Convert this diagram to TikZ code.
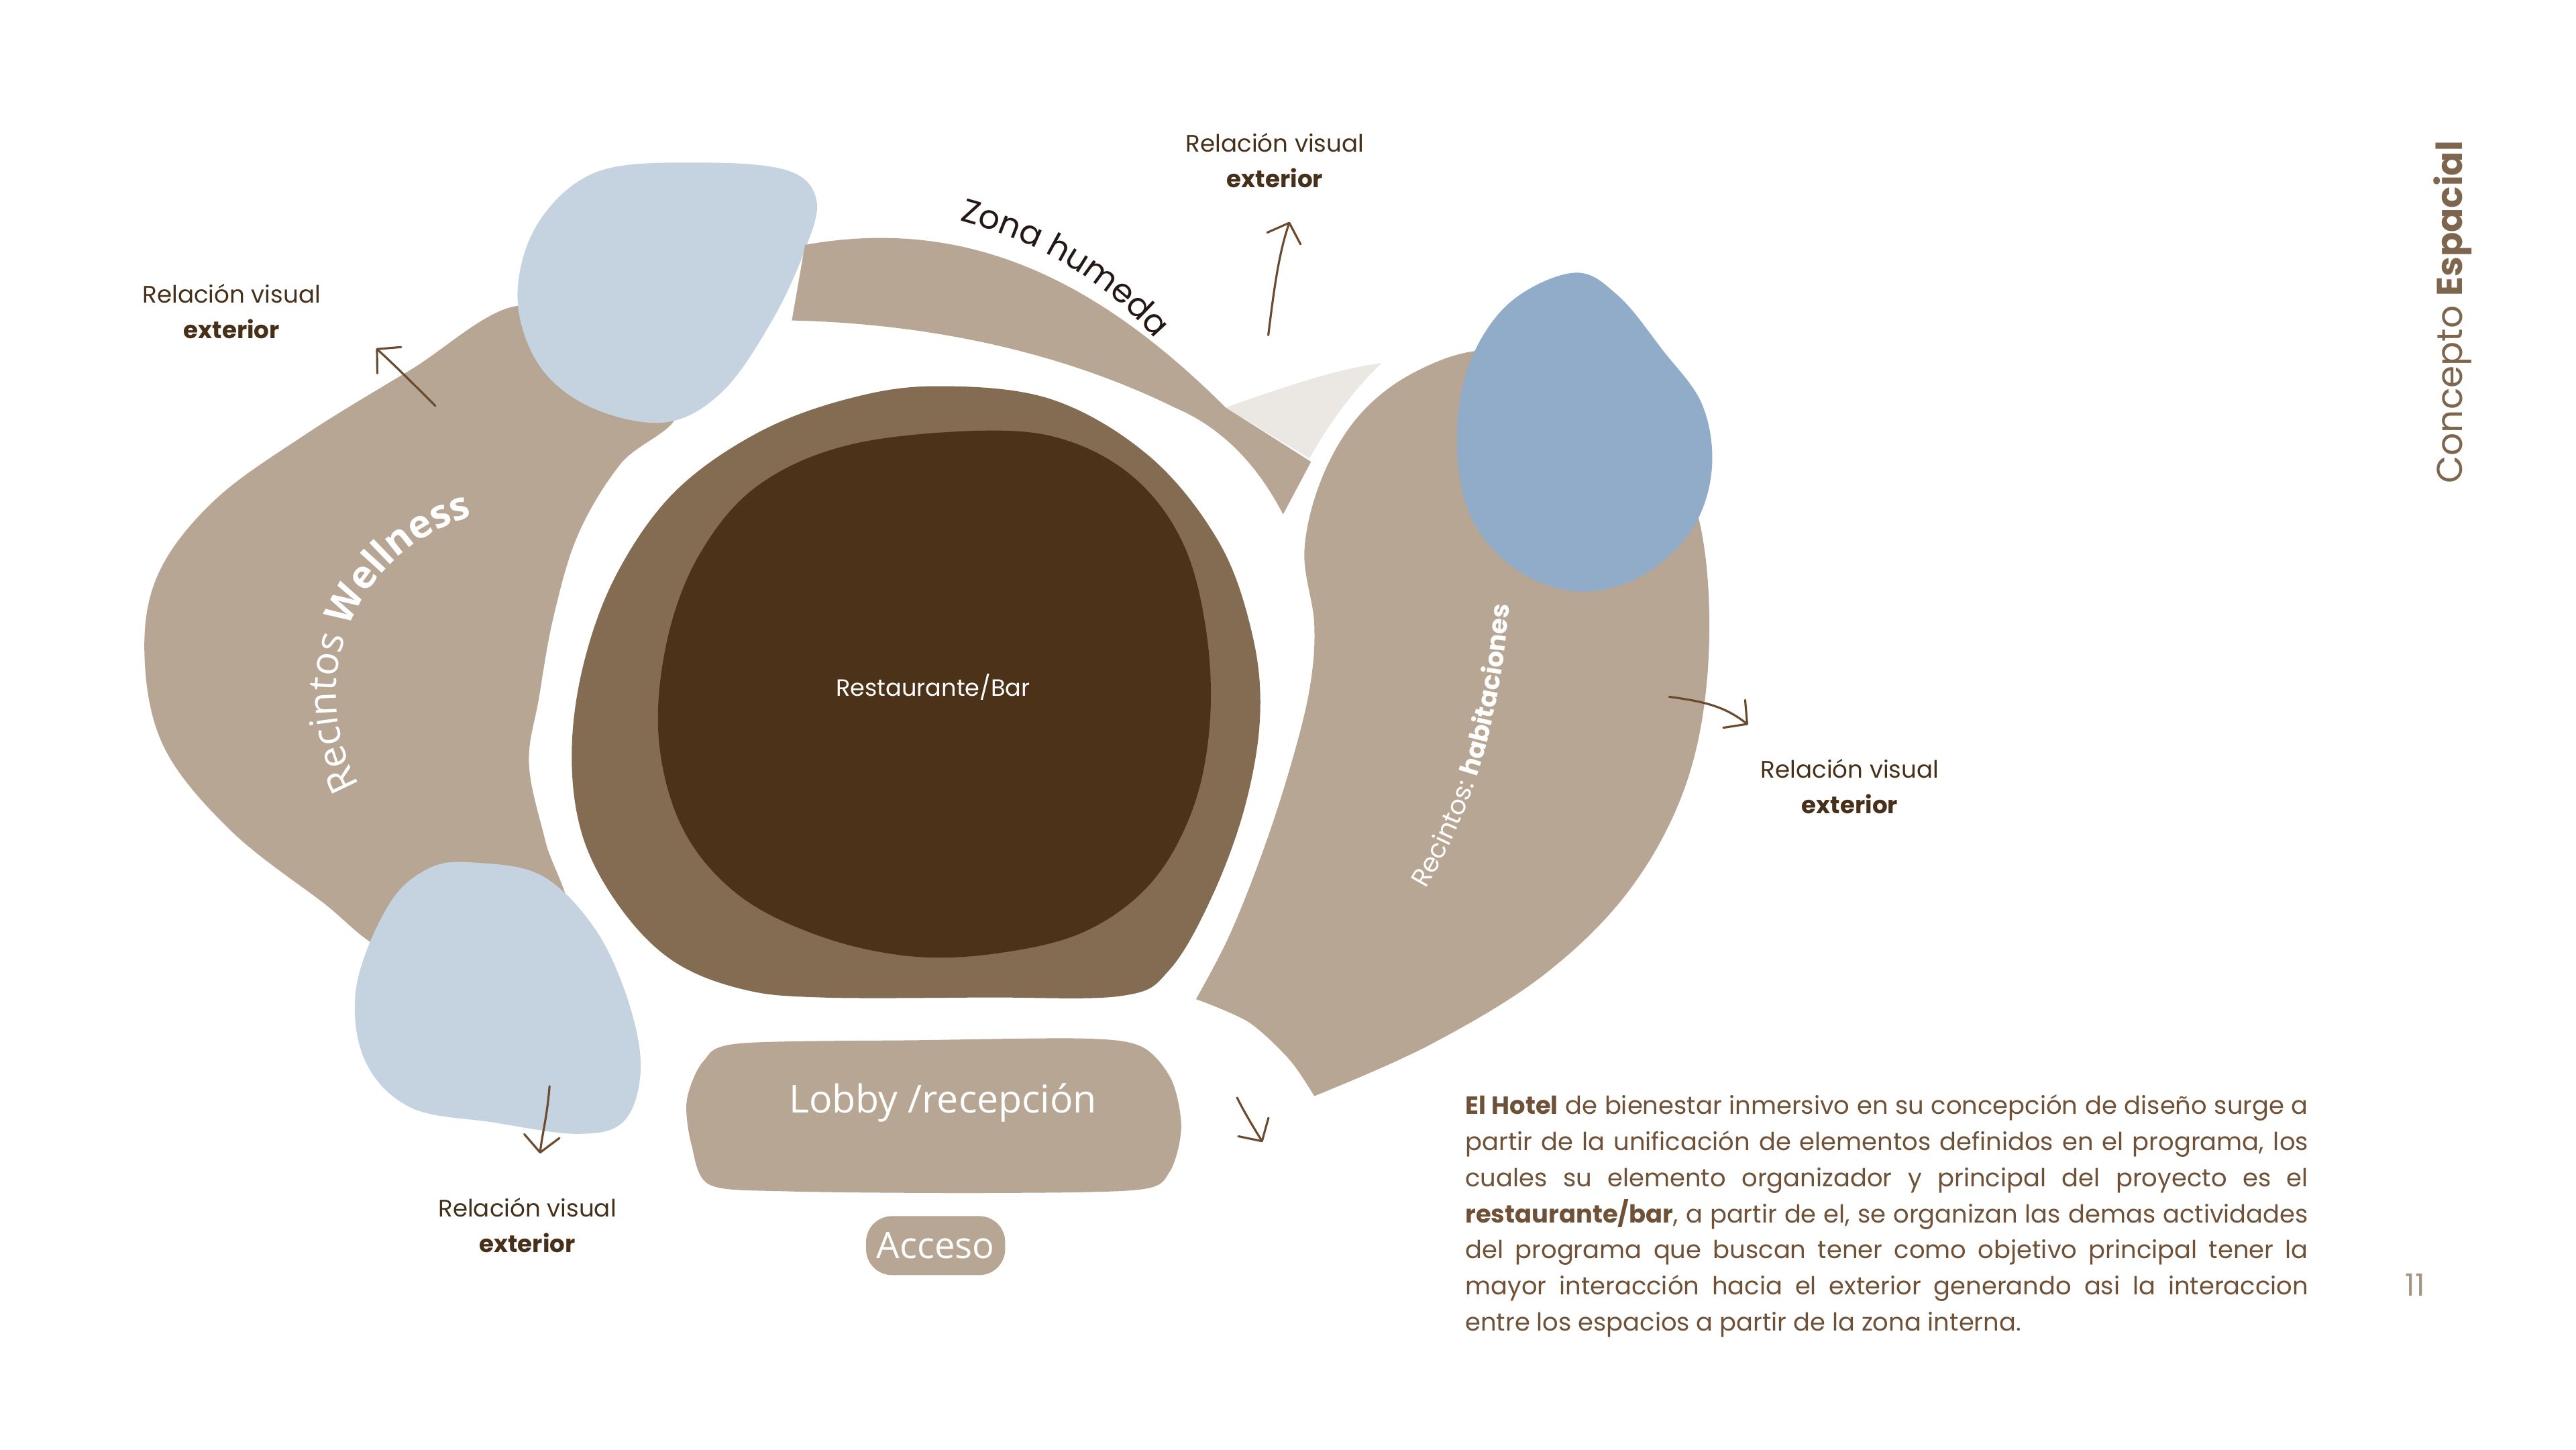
\documentclass[tikz,border=0pt]{standalone}
\usepackage{fontspec}
\setmainfont{Poppins}
\newfontfamily\osans{Open Sans}
\usetikzlibrary{arrows.meta,decorations.text}

\definecolor{taupe}{HTML}{B7A694}
\definecolor{skyblue}{HTML}{C5D2DF}
\definecolor{midblue}{HTML}{91ACC8}
\definecolor{barbrown}{HTML}{846C53}
\definecolor{bardark}{HTML}{4B3218}
\definecolor{wetgrey}{HTML}{EBE7E3}
\definecolor{inkbrown}{HTML}{6B4B30}
\definecolor{labelbrown}{HTML}{47301A}
\definecolor{bodybrown}{HTML}{6E5136}
\definecolor{titlebrown}{HTML}{7E664E}
\definecolor{pagegrey}{HTML}{A39483}
\definecolor{wetink}{HTML}{231815}

\begin{document}
\begin{tikzpicture}[
  x=0.02449cm, y=-0.02449cm,
  zone/.style={fill=taupe},
  pool/.style={fill=skyblue},
  pooldk/.style={fill=midblue},
  relv/.style={align=center, text=labelbrown, inner sep=0pt,
               font=\fontsize{10.15}{15}\selectfont},
  body/.style={text width=357.5pt, align=justify, text=bodybrown, inner sep=0pt,
               font=\fontsize{10.5}{15.33}\selectfont},
  intxt/.style={text=white, inner sep=0pt},
  pill/.style={fill=taupe, rounded corners=11pt, minimum width=59pt,
               minimum height=25pt, inner sep=0pt, text=white,
               font=\osans\fontsize{15.5}{16}\selectfont},
  arr/.style={draw=inkbrown, line width=0.9pt, line cap=round,
              -{Straight Barb[length=7pt, width=15pt, round]}}]

% page
\fill[white] (0,0) rectangle (1568,882);
\useasboundingbox (0,0) rectangle (1568,882);

% wellness wing and pools
\fill[zone] plot[smooth cycle, tension=0.6] coordinates {(316,186) (250,225) (185,265)
  (130,305) (96,350) (88,400) (100,455) (140,505) (195,548) (240,580) (300,575)
  (345,560) (332,512) (322,465) (328,425) (337,375) (352,325) (378,282) (412,250) (370,212)};
\fill[pool] plot[smooth cycle, tension=0.6] coordinates {(365,104) (430,99) (480,104)
  (497,122) (490,152) (470,195) (440,238) (405,257) (360,248) (328,222) (315,180) (328,135)};
\fill[pool] plot[smooth cycle, tension=0.6] coordinates {(290,525) (330,533) (362,565)
  (382,608) (390,650) (380,682) (352,690) (300,683) (250,674) (222,645) (217,600)
  (237,550) (262,528)};

% zona humeda
\fill[wetgrey] (746,248) .. controls (780,236) and (815,224) .. (841,221)
  .. controls (825,236) and (810,256) .. (797,279) -- cycle;
\fill[zone] (482,195) -- (490,149) .. controls (580,133) and (660,162) .. (746,248)
  -- (798,281) -- (781,313) .. controls (768,288) and (748,262) .. (715,248)
  .. controls (650,216) and (570,197) .. (482,195) -- cycle;

% restaurante
\fill[barbrown] plot[smooth cycle, tension=0.6] coordinates {(570,235) (640,243) (700,278)
  (742,330) (762,385) (767,435) (758,490) (738,545) (712,590) (683,606) (600,607)
  (500,607) (452,602) (410,585) (378,553) (355,510) (348,460) (355,405) (375,350)
  (410,300) (460,264) (515,243)};
\fill[bardark] plot[smooth cycle, tension=0.6] coordinates {(605,262) (655,270) (695,295)
  (722,335) (735,390) (736,445) (725,495) (700,538) (660,567) (608,580) (555,582)
  (500,570) (450,545) (416,505) (401,450) (406,390) (426,337) (462,295) (520,270)};

% habitaciones
\fill[zone] (728,608) -- plot[smooth, tension=0.6] coordinates {(728,608) (748,570)
  (768,520) (785,468) (797,420) (800,380) (794,335) (805,290) (828,252) (862,226)
  (905,213) (960,222) (1010,260) (1035,320) (1040,400) (1027,475) (993,540) (940,593)
  (870,636) (800,667)} -- plot[smooth] coordinates {(800,667) (785,645) (760,622) (728,608)}
  -- cycle;
\fill[pooldk] plot[smooth cycle, tension=0.6] coordinates {(958,166) (985,180) (1012,213)
  (1036,246) (1042,285) (1030,322) (1000,350) (962,360) (925,348) (897,318) (887,275)
  (893,225) (918,185)};

% lobby
\fill[zone] plot[smooth cycle, tension=0.5] coordinates {(450,635) (560,633) (660,632)
  (695,637) (713,657) (719,686) (712,713) (693,724) (600,726) (480,725) (432,721)
  (421,697) (418,670) (428,646)};

% texts in the plan
\node[intxt, font=\fontsize{10}{12}\selectfont] (bar) at (568,418) {Restaurante/Bar};
\node[intxt, font=\osans\fontsize{16.3}{17}\selectfont] (lobby) at (574,671) {Lobby /recepción};
\node[pill] (acceso) at (569.5,758) {Acceso};
\path[decorate, decoration={text along path, text align=left, text color=white,
  text={|\osans\fontsize{16.5}{17}\selectfont|Recintos |\osans\fontsize{16.5}{17}\selectfont\bfseries|Wellness}}]
  (219,478) arc[start angle=150.6, end angle=265, radius=112.3];
\path[decorate, decoration={text along path, text align=left, text color=wetink,
  text={|\fontsize{14}{15}\selectfont|Zona humeda}}]
  (584,134) .. controls (625,145) and (670,166) .. (708,212);
\path[decorate, decoration={text along path, text align=left, text color=white,
  text={|\fontsize{11}{12}\selectfont|Recintos: |\fontsize{11}{12}\selectfont\bfseries|habitaciones}}]
  (868,541) .. controls (895,495) and (915,440) .. (920,350);

% relacion visual
\node[relv] (relW) at (141,189.5) {Relación visual\\\textbf{exterior}};
\node[relv] (relN) at (776,97.5) {Relación visual\\\textbf{exterior}};
\node[relv] (relE) at (1126,478.5) {Relación visual\\\textbf{exterior}};
\node[relv] (relS) at (321,745.5) {Relación visual\\\textbf{exterior}};

\coordinate (wA) at (265,247); \coordinate (wB) at (229,212);
\coordinate (nA) at (772,204); \coordinate (nB) at (785,135);
\coordinate (eA) at (1016,424); \coordinate (eB) at (1064,441);
\coordinate (sA) at (334.5,661); \coordinate (sB) at (328.7,702);
\coordinate (lA) at (753,668); \coordinate (lB) at (768.5,695);
\draw[arr] (wA) .. controls (252,234) and (240,222) .. (wB);
\draw[arr] (nA) .. controls (775,180) and (778,155) .. (nB);
\draw[arr] (eA) .. controls (1038,427) and (1050,430) .. (eB);
\draw[arr] (sA) .. controls (333,680) and (330,690) .. (sB);
\draw[arr] (lA) .. controls (758,678) and (763,686) .. (lB);

% text block
\node[body] (hotel) at (1148.5,740) {\textbf{El Hotel} de bienestar inmersivo en su concepción de diseño surge a\linebreak
partir de la unificación de elementos definidos en el programa, los\linebreak
cuales su elemento organizador y principal del proyecto es el\linebreak
\textbf{restaurante/bar}, a partir de el, se organizan las demas actividades\linebreak
del programa que buscan tener como objetivo principal tener la\linebreak
mayor interacción hacia el exterior generando asi la interaccion\linebreak
entre los espacios a partir de la zona interna.};

% title and page
\node[rotate=90, text=titlebrown, inner sep=0pt, font=\fontsize{15.2}{17}\selectfont]
  (title) at (1493,190) {Concepto \textbf{Espacial}};
\node[text=pagegrey, inner sep=0pt, font=\fontsize{13}{13}\selectfont] (pnum) at (1470,782) {11};
\end{tikzpicture}
\end{document}
